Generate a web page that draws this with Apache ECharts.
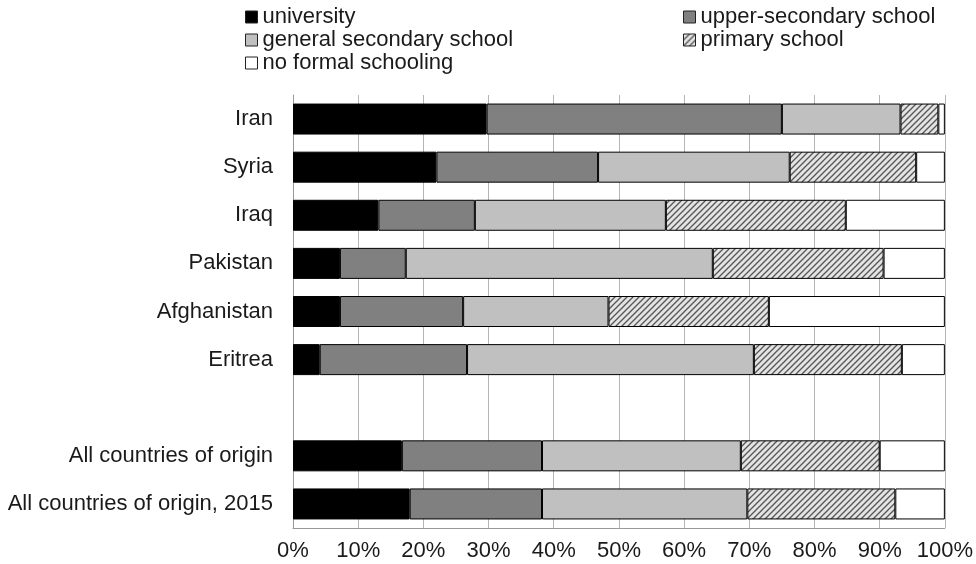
<!DOCTYPE html>
<html>
<head>
<meta charset="utf-8">
<script src="https://cdn.jsdelivr.net/npm/echarts@6/dist/echarts.min.js"></script>
<style>
html,body{margin:0;padding:0;background:#fff;}
#chart{width:976px;height:564px;}
</style>
</head>
<body>
<div id="chart"></div>
<script>
var categories = ['Iran', 'Syria', 'Iraq', 'Pakistan', 'Afghanistan', 'Eritrea', '', 'All countries of origin', 'All countries of origin, 2015'];
var university        = [29.7, 22.0, 13.1, 7.2, 7.2, 4.1, null, 16.7, 17.9];
var upperSecondary    = [45.3, 24.8, 14.8, 10.1, 18.9, 22.6, null, 21.5, 20.3];
var generalSecondary  = [18.2, 29.4, 29.3, 47.1, 22.3, 44.0, null, 30.5, 31.5];
var primarySchool     = [5.8, 19.4, 27.6, 26.2, 24.6, 22.7, null, 21.3, 22.7];
var noFormal          = [1.0, 4.4, 15.2, 9.4, 27.0, 6.6, null, 10.0, 7.6];
var xTicks = [0, 10, 20, 30, 40, 50, 60, 70, 80, 90, 100];

function hatch() {
  var c = document.createElement('canvas');
  c.width = 6; c.height = 6;
  var g = c.getContext('2d');
  g.fillStyle = '#e4e4e4';
  g.fillRect(0, 0, 6, 6);
  g.strokeStyle = '#555';
  g.lineWidth = 1.3;
  g.beginPath();
  g.moveTo(0, 6); g.lineTo(6, 0);
  g.moveTo(-3, 3); g.lineTo(3, -3);
  g.moveTo(3, 9); g.lineTo(9, 3);
  g.stroke();
  return c;
}

var font = 'Liberation Sans, Arial, Helvetica, sans-serif';
var chart = echarts.init(document.getElementById('chart'));

function mk(name, data, color) {
  return {
    name: name,
    type: 'bar',
    stack: 'total',
    barWidth: 31,
    data: data,
    itemStyle: { color: color, borderColor: '#000', borderWidth: 1 },
    emphasis: { disabled: true },
    animation: false
  };
}

var legendCommon = {
  orient: 'vertical',
  itemWidth: 12,
  itemHeight: 12,
  itemGap: 1,
  icon: 'rect',
  padding: 0,
  itemStyle: { borderColor: '#222', borderWidth: 1 },
  textStyle: { fontFamily: font, fontSize: 22, lineHeight: 22, color: '#1a1a1a', padding: [0, 0, 0, 0] }
};

chart.setOption({
  animation: false,
  textStyle: { fontFamily: font },
  legend: [
    Object.assign({}, legendCommon, { left: 245, top: 6, data: ['university', 'general secondary school', 'no formal schooling'] }),
    Object.assign({}, legendCommon, { left: 683, top: 6, data: ['upper-secondary school', 'primary school'] })
  ],
  grid: { left: 293, right: 29, top: 95, bottom: 36, containLabel: false },
  xAxis: {
    type: 'value',
    min: xTicks[0],
    max: xTicks[xTicks.length - 1],
    interval: 10,
    axisLine: { show: true, lineStyle: { color: '#999', width: 1 } },
    axisTick: { show: false },
    splitLine: { show: true, lineStyle: { color: '#b5b5b5', width: 1 } },
    axisLabel: { formatter: '{value}%', fontSize: 22, color: '#1a1a1a', margin: 12, fontFamily: font }
  },
  yAxis: {
    type: 'category',
    inverse: true,
    data: categories,
    axisLine: { show: true, lineStyle: { color: '#999', width: 1 } },
    axisTick: { show: false },
    axisLabel: { fontSize: 22, color: '#1a1a1a', margin: 20, fontFamily: font }
  },
  series: [
    mk('university', university, '#000000'),
    mk('upper-secondary school', upperSecondary, '#808080'),
    mk('general secondary school', generalSecondary, '#c0c0c0'),
    mk('primary school', primarySchool, { image: hatch(), repeat: 'repeat' }),
    mk('no formal schooling', noFormal, '#ffffff')
  ]
});
</script>
</body>
</html>
